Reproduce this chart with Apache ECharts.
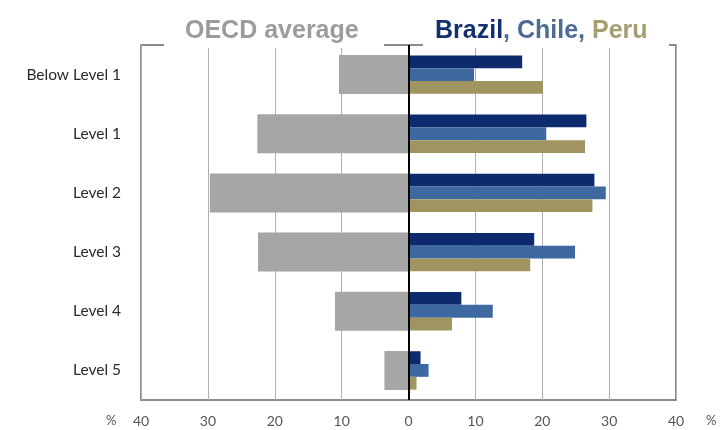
<!DOCTYPE html>
<html>
<head>
<meta charset="utf-8">
<script src="https://cdn.jsdelivr.net/npm/echarts@6/dist/echarts.min.js"></script>
<style>html,body{margin:0;padding:0;background:#fff}#c{width:720px;height:430px}</style>
</head>
<body>
<div id="c"></div>
<script>
const categories = ['Below Level 1', 'Level 1', 'Level 2', 'Level 3', 'Level 4', 'Level 5'];
const oecd = [10.4, 22.6, 29.7, 22.5, 11.0, 3.6];
const brazil = [17.0, 26.6, 27.8, 18.8, 7.9, 1.8];
const chile = [9.8, 20.6, 29.5, 24.9, 12.6, 3.0];
const peru = [20.1, 26.4, 27.5, 18.2, 6.5, 1.2];
const xTicks = [-40, -30, -20, -10, 0, 10, 20, 30, 40];

const chart = echarts.init(document.getElementById('c'), null, {renderer: 'canvas'});
const font = 'Lato, "Open Sans", sans-serif';
const tfont = 'bold 25px "Liberation Sans", Arial, sans-serif';
chart.setOption({
  animation: false,
  backgroundColor: '#fff',
  grid: {left: 141, right: 44, top: 45, bottom: 30, show: true, borderColor: '#666', borderWidth: 1.5, backgroundColor: 'transparent'},
  xAxis: {
    type: 'value', min: xTicks[0], max: xTicks[xTicks.length - 1], interval: 10,
    axisLine: {show: false}, axisTick: {show: false},
    splitLine: {show: true, lineStyle: {color: '#b0b0b0', width: 1}},
    axisLabel: {color: '#555', fontSize: 14, fontFamily: font, margin: 14,
      formatter: v => String(Math.abs(v))}
  },
  yAxis: [{
    type: 'category', data: categories, inverse: true,
    axisLine: {show: false}, axisTick: {show: false},
    axisLabel: {color: '#2a2a2a', fontSize: 15.5, fontFamily: font, margin: 20}
  }, {
    type: 'category', data: categories, inverse: true, show: false
  }],
  series: [
    {name: 'OECD average', type: 'bar', yAxisIndex: 1, data: oecd.map(v => -v), barWidth: 39,
      itemStyle: {color: '#a6a6a6'}, z: 2},
    {name: 'Brazil', type: 'bar', yAxisIndex: 0, data: brazil, barWidth: 12.8, barGap: '0%',
      itemStyle: {color: '#0c2a6c'}, z: 3,
      markLine: {silent: true, symbol: 'none', label: {show: false},
        lineStyle: {color: '#000', width: 2, type: 'solid'}, data: [{xAxis: 0}], z: 10}},
    {name: 'Chile', type: 'bar', yAxisIndex: 0, data: chile, barWidth: 12.8, barGap: '0%',
      itemStyle: {color: '#3d68a0'}, z: 3},
    {name: 'Peru', type: 'bar', yAxisIndex: 0, data: peru, barWidth: 12.8, barGap: '0%',
      itemStyle: {color: '#a09460'}, z: 3}
  ],
  graphic: [
    {type: 'rect', left: 164, top: 42, z: 99, shape: {width: 220, height: 6}, style: {fill: '#fff'}},
    {type: 'rect', left: 423, top: 42, z: 99, shape: {width: 246, height: 6}, style: {fill: '#fff'}},
    {type: 'text', left: 185, top: 19, z: 100,
      style: {text: 'OECD average', fill: '#9c9c9c', font: tfont}},
    {type: 'text', left: 435, top: 19, z: 100,
      style: {text: '{a|Brazil}{b|, Chile, }{c|Peru}',
        rich: {
          a: {fill: '#13306e', font: tfont},
          b: {fill: '#4f6c94', font: tfont},
          c: {fill: '#a59e70', font: tfont}
        }}},
    {type: 'text', left: 106, top: 414, style: {text: '%', fill: '#555', font: '13px Lato, sans-serif'}},
    {type: 'text', left: 706, top: 414, style: {text: '%', fill: '#555', font: '13px Lato, sans-serif'}}
  ]
});
</script>
</body>
</html>
